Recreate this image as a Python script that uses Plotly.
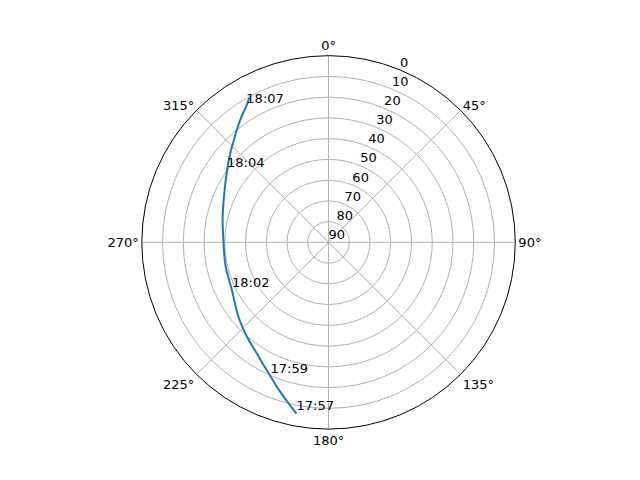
import plotly.graph_objects as go

# pass samples every 30 s
times = ["17:57:00", "17:57:30", "17:58:00", "17:58:30", "17:59:00", "17:59:30",
         "18:00:00", "18:00:30", "18:01:00", "18:01:30", "18:02:00", "18:02:30",
         "18:03:00", "18:03:30", "18:04:00", "18:04:30", "18:05:00", "18:05:30",
         "18:06:00", "18:06:30", "18:07:00", "18:07:30"]
azimuth = [190.6, 192.7, 195.0, 197.6, 200.4, 203.4, 207.5, 212.5, 219.5, 230.0, 243.5,
           257.5, 271.0, 283.0, 294.5, 305.2, 312.0, 317.5, 321.8, 325.5, 328.9, 331.3]
elevation = [6.0, 8.6, 11.3, 14.0, 16.8, 19.6, 22.8, 26.1, 29.3, 33.5, 38.0,
             39.1, 39.3, 37.6, 34.7, 30.1, 26.2, 22.6, 19.2, 16.1, 13.3, 10.4]

# radial labels (matplotlib puts them at 22.5 deg)
r_ticks = [0, 10, 20, 30, 40, 50, 60, 70, 80, 90]

# label every 5th sample
lbl_idx = list(range(0, len(times), 5))

fig = go.Figure()
fig.add_trace(go.Scatterpolar(r=elevation, theta=azimuth, mode="lines",
                              line=dict(color="#1f77b4", width=2, shape="spline"),
                              showlegend=False))
fig.add_trace(go.Scatterpolar(r=[elevation[i] for i in lbl_idx],
                              theta=[azimuth[i] for i in lbl_idx],
                              text=[times[i][:5] for i in lbl_idx],
                              mode="text", textposition="top right",
                              textfont=dict(size=13, color="black"), showlegend=False))
fig.add_trace(go.Scatterpolar(r=r_ticks, theta=[22.5] * len(r_ticks),
                              text=[str(v) for v in r_ticks],
                              mode="text", textposition="top right", cliponaxis=False,
                              textfont=dict(size=13, color="black"), showlegend=False))

fig.update_layout(
    width=640, height=480,
    margin=dict(l=0, r=0, t=0, b=0),
    paper_bgcolor="white",
    font=dict(family="DejaVu Sans", size=13, color="black"),
    polar=dict(
        domain=dict(x=[0.2091, 0.7926], y=[0.1227, 0.9007]),
        bgcolor="white",
        angularaxis=dict(rotation=90, direction="clockwise", dtick=45, ticksuffix="°",
                         showline=True, linecolor="black", linewidth=1,
                         gridcolor="#b0b0b0", ticks=""),
        radialaxis=dict(range=[90, 0], dtick=10, showline=False,
                        showticklabels=False,
                        gridcolor="#b0b0b0", ticks=""),
    ),
)
fig.write_html("out.html")
